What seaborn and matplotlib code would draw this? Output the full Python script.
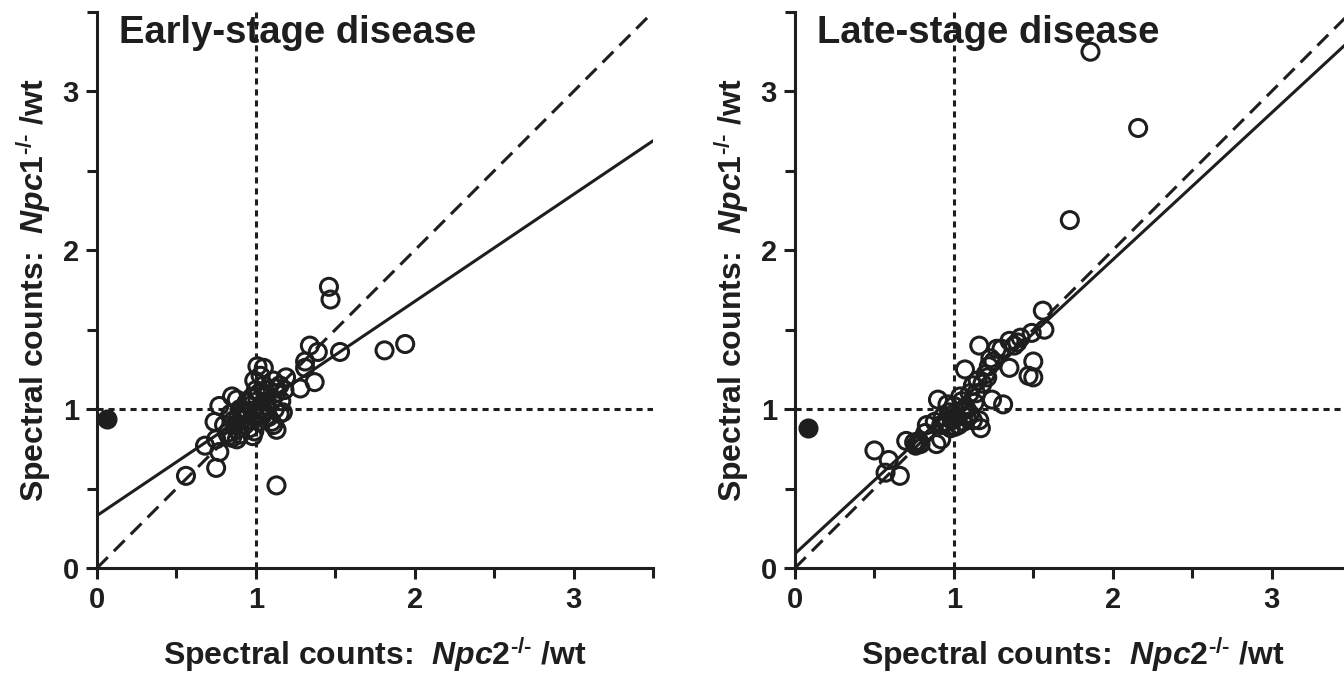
import matplotlib
matplotlib.use("Agg")
import matplotlib.pyplot as plt
from matplotlib.ticker import MultipleLocator
import seaborn as sns
import pandas as pd

# ------------------------------- datos leidos ------------------------------- #
# panel izquierdo: enfermedad temprana
early_x = [1.46, 1.47, 1.34, 1.39, 1.53, 1.81, 1.94, 1.31, 1.31, 1.28, 1.37, 1.13,
           0.56, 0.75, 0.68, 0.77, 0.74, 0.77, 1.01, 1.05, 0.99, 1.03, 1.19, 1.17,
           1.13, 1.10, 1.11, 1.13, 0.85, 0.75, 0.88, 0.98,
           0.82, 0.85, 0.88, 0.86, 0.88, 0.90, 0.92, 0.93, 0.95, 0.96, 0.97, 0.98,
           0.99, 1.00, 1.01, 1.02, 1.03, 1.04, 1.05, 1.06, 1.07, 1.08, 1.10, 1.12,
           1.13, 1.15, 1.16, 1.18, 0.80, 0.84, 0.90, 0.94, 0.97, 1.02, 1.08, 0.87,
           0.91, 1.11, 1.15, 0.83, 1.00, 0.96, 0.93, 1.05, 0.89, 1.07]
early_y = [1.77, 1.69, 1.40, 1.36, 1.36, 1.37, 1.41, 1.30, 1.26, 1.13, 1.17, 0.52,
           0.58, 0.63, 0.77, 0.73, 0.92, 1.02, 1.27, 1.26, 1.18, 1.21, 1.20, 0.98,
           0.87, 0.92, 0.90, 1.13, 1.08, 0.81, 0.81, 0.83,
           0.85, 0.82, 0.87, 0.93, 1.06, 1.00, 0.96, 0.90, 0.97, 1.02, 0.93, 0.99,
           0.86, 0.95, 1.05, 1.10, 1.00, 0.96, 1.15, 1.08, 1.02, 1.12, 1.05, 1.00,
           1.10, 1.15, 1.05, 1.12, 0.90, 0.97, 0.84, 1.04, 1.07, 0.92, 0.95, 0.90,
           0.93, 1.18, 0.97, 0.83, 1.12, 0.88, 0.99, 0.99, 0.95, 1.09]
early_filled_x = [0.06]
early_filled_y = [0.94]

# panel derecho: enfermedad tardia
late_x = [1.86, 2.16, 1.73, 1.56, 1.57, 1.49, 1.50, 1.47, 1.50, 1.16, 1.35, 1.40,
          1.27, 1.35, 1.07, 1.23, 1.21, 1.24, 1.31, 1.16, 1.17, 0.90, 0.50, 0.59,
          0.57, 0.66, 0.70, 0.75, 0.77, 0.79, 0.76, 0.89, 0.92, 0.83,
          0.95, 0.97, 1.00, 1.02, 1.05, 1.03, 0.98, 1.08, 1.10, 1.12, 1.15, 1.18,
          1.12, 1.06, 0.93, 1.00, 1.04, 1.10, 0.88, 0.92, 1.20, 1.22, 1.14, 1.08,
          0.96, 1.01, 1.25, 1.30, 1.38, 1.42, 0.82, 0.78, 0.99, 1.06, 1.13]
late_y = [3.25, 2.77, 2.19, 1.62, 1.50, 1.48, 1.30, 1.21, 1.20, 1.40, 1.43, 1.42,
          1.38, 1.26, 1.25, 1.32, 1.20, 1.06, 1.03, 0.93, 0.88, 1.06, 0.74, 0.68,
          0.60, 0.58, 0.80, 0.79, 0.78, 0.78, 0.77, 0.78, 0.81, 0.90,
          0.92, 0.98, 1.02, 0.95, 1.05, 0.90, 0.88, 1.00, 1.10, 1.15, 1.18, 1.16,
          0.93, 0.92, 0.95, 0.97, 1.08, 0.97, 0.92, 0.90, 1.22, 1.27, 1.10, 0.95,
          1.03, 0.89, 1.30, 1.38, 1.40, 1.45, 0.85, 0.80, 0.93, 0.99, 1.04]
late_filled_x = [0.08]
late_filled_y = [0.88]

# recta de regresion (pendiente, ordenada)
fit_slope = [0.674, 0.925]
fit_intercept = [0.33, 0.09]

titles = ["Early-stage disease", "Late-stage disease"]
x_label = "Spectral counts:  $Npc2^{\u2010/\u2010}$ /wt"
y_label = "Spectral counts:  $Npc1^{\u2010/\u2010}$ /wt"

# --------------------------------- estilo ---------------------------------- #
sns.set_style("ticks")
plt.rcParams["font.family"] = ["Liberation Sans", "DejaVu Sans"]
plt.rcParams["font.weight"] = "bold"
plt.rcParams["mathtext.fontset"] = "custom"
plt.rcParams["mathtext.rm"] = "Liberation Sans:bold"
plt.rcParams["mathtext.it"] = "Liberation Sans:italic:bold"
plt.rcParams["mathtext.bf"] = "Liberation Sans:bold"

INK = "#1e1e1e"
LW = 2.2

fig = plt.figure(figsize=(13.44, 6.77), dpi=100)
ax_l = fig.add_axes([97 / 1344, 109 / 677, 556 / 1344, 556 / 677])
ax_r = fig.add_axes([795 / 1344, 109 / 677, 556 / 1344, 556 / 677])

paneles = [
    (ax_l, early_x, early_y, early_filled_x, early_filled_y),
    (ax_r, late_x, late_y, late_filled_x, late_filled_y),
]

for i, (ax, xs, ys, fx, fy) in enumerate(paneles):
    df = pd.DataFrame({"x": xs, "y": ys})
    df_f = pd.DataFrame({"x": fx, "y": fy})

    # lineas de referencia
    ax.axhline(1, color=INK, lw=LW, linestyle=(0, (2.0, 1.6)), zorder=1)
    ax.axvline(1, color=INK, lw=LW, linestyle=(0, (2.0, 1.6)), zorder=1)
    ax.axline((0, 0), slope=1, color=INK, lw=LW, linestyle=(0, (5.0, 2.8)), zorder=2)
    ax.axline((0, fit_intercept[i]), slope=fit_slope[i], color=INK, lw=LW, zorder=2)

    sns.scatterplot(data=df, x="x", y="y", ax=ax, marker="o", s=150,
                    color=INK, facecolor="none", edgecolor=INK, linewidth=LW, zorder=3)
    sns.scatterplot(data=df_f, x="x", y="y", ax=ax, marker="o", s=150,
                    color=INK, edgecolor=INK, linewidth=LW, zorder=3)

    ax.set_xlim(0, 3.5)
    ax.set_ylim(0, 3.5)
    ax.xaxis.set_major_locator(MultipleLocator(1))
    ax.xaxis.set_minor_locator(MultipleLocator(0.5))
    ax.yaxis.set_major_locator(MultipleLocator(1))
    ax.yaxis.set_minor_locator(MultipleLocator(0.5))
    ax.tick_params(which="both", direction="out", width=LW, color=INK,
                   labelsize=21, labelcolor=INK, pad=5)
    ax.tick_params(which="major", length=8)
    ax.tick_params(which="minor", length=7)
    for lbl in ax.get_xticklabels() + ax.get_yticklabels():
        lbl.set_fontweight("bold")

    sns.despine(ax=ax)
    for side in ["left", "bottom"]:
        ax.spines[side].set_linewidth(LW)
        ax.spines[side].set_color(INK)

    ax.set_xlabel(x_label, fontsize=23, fontweight="bold", color=INK, labelpad=15)
    ax.set_ylabel(y_label, fontsize=23, fontweight="bold", color=INK, labelpad=7)

    ax.text(0.04, 0.995, titles[i], transform=ax.transAxes, fontsize=27.5,
            fontweight="bold", color=INK, va="top", ha="left")

fig.savefig("out.png", dpi=100)
